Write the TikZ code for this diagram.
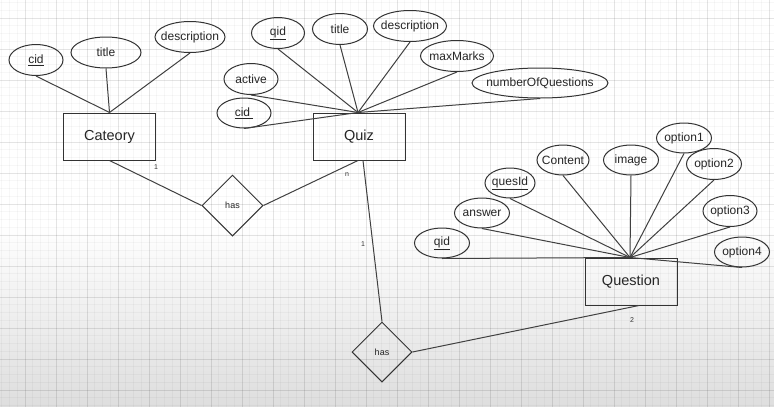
\documentclass[tikz,border=0pt]{standalone}
\usepackage{fontspec}
\setmainfont{Liberation Sans}
\usetikzlibrary{shapes.geometric}
\newcommand{\attrtext}[1]{\makebox[0pt]{#1}}
\begin{document}
\begin{tikzpicture}[x=1pt,y=-1pt,
    entity/.style={draw=black!80, line width=1pt, minimum width=92pt, minimum height=47pt,
        inner sep=0pt, text=black!85, font=\fontsize{14.5}{16}\selectfont},
    attrib/.style={ellipse, draw=black!80, line width=1pt, minimum height=31pt, inner sep=0pt,
        text=black!85, font=\fontsize{12}{14}\selectfont},
    relation/.style={diamond, draw=black!80, line width=1pt, minimum width=61pt, minimum height=61pt,
        inner sep=0pt, text=black!85, font=\fontsize{9}{10}\selectfont},
    link/.style={draw=black!75, line width=1pt},
    card/.style={text=black!80, font=\fontsize{7}{8}\selectfont},
    minorline/.style={black, opacity=0.03, line width=0.6pt},
    majorline/.style={black, opacity=0.075, line width=1pt}]
    \useasboundingbox (0,0) rectangle (774,407);
    \fill[white] (0,0) rectangle (774,407);
    \shade[top color=white, bottom color=black!13] (0,225) rectangle (774,407);
    \foreach \i in {0,...,100} {\draw[minorline] ({1.75+7.75*\i},0) -- ++(0,407);}
    \foreach \i in {0,...,52} {\draw[minorline] (0,{2.5+7.75*\i}) -- ++(774,0);}
    \foreach \i in {0,...,24} {\draw[majorline] ({25+31*\i},0) -- ++(0,407);}
    \foreach \i in {0,...,12} {\draw[majorline] (0,{18+31*\i}) -- ++(774,0);}

    \node (cat)[entity] at (109.5,136.5) {Cateory};
    \node (cat_cid)[attrib, minimum width=54pt] at (36,60) {\attrtext{\underline{cid}}};
    \node (cat_title)[attrib, minimum width=70pt] at (106,52.5) {\attrtext{title}};
    \node (cat_desc)[attrib, minimum width=70pt] at (190,37) {\attrtext{description}};

    \node (quiz)[entity] at (359,136.5) {Quiz};
    \node (quiz_qid)[attrib, minimum width=53pt] at (278,33) {\attrtext{\underline{qid}}};
    \node (quiz_title)[attrib, minimum width=55pt] at (340,29) {\attrtext{title}};
    \node (quiz_desc)[attrib, minimum width=73pt] at (410,26) {\attrtext{description}};
    \node (quiz_max)[attrib, minimum width=73pt] at (457,56) {\attrtext{maxMarks}};
    \node (quiz_noq)[attrib, minimum width=136pt, minimum height=30pt] at (540,83) {\attrtext{numberOfQuestions}};
    \node (quiz_active)[attrib, minimum width=54pt] at (251,79) {\attrtext{active}};
    \node (quiz_cid)[attrib, minimum width=54pt, minimum height=30pt] at (244,113) {\attrtext{\underline{cid\hspace{3pt}}}};

    \node (ques)[entity] at (631,281.5) {Question};
    \node (ques_qid)[attrib, minimum width=55pt, minimum height=30pt] at (442,243) {\attrtext{\underline{qid}}};
    \node (ques_answer)[attrib, minimum width=55pt, minimum height=30pt] at (482,213) {\attrtext{answer}};
    \node (ques_id)[attrib, minimum width=50pt, minimum height=30pt] at (510,183) {\attrtext{\underline{quesId}}};
    \node (ques_content)[attrib, minimum width=52pt, minimum height=30pt] at (563,160) {\attrtext{Content}};
    \node (ques_image)[attrib, minimum width=55pt, minimum height=30pt] at (631,160) {\attrtext{image}};
    \node (ques_opt1)[attrib, minimum width=55pt, minimum height=30pt] at (684,138) {\attrtext{option1}};
    \node (ques_opt2)[attrib, minimum width=55pt] at (714,164) {\attrtext{option2}};
    \node (ques_opt3)[attrib, minimum width=54pt] at (730,211) {\attrtext{option3}};
    \node (ques_opt4)[attrib, minimum width=55pt, minimum height=30pt] at (742,252) {\attrtext{option4}};

    \node (has_cat)[relation] at (232.5,205.5) {has};
    \node (has_ques)[relation, minimum width=60pt, minimum height=60pt] at (382,352) {has};

    \node (card_cat)[card] at (156,167) {1};
    \node (card_quiz_n)[card] at (347,175) {n};
    \node (card_quiz_1)[card] at (363,244) {1};
    \node (card_ques)[card] at (632,320) {2};

    \foreach \a in {cat_cid,cat_title,cat_desc}
        \path[link] (\a.south) -- (cat.north);
    \foreach \a in {quiz_qid,quiz_title,quiz_desc,quiz_max,quiz_noq,quiz_active,quiz_cid}
        \path[link] (\a.south) -- ([xshift=-1pt]quiz.north);
    \foreach \a in {ques_qid,ques_answer,ques_id,ques_content,ques_image,ques_opt1,ques_opt2,ques_opt3,ques_opt4}
        \path[link] (\a.south) -- ([xshift=-1pt]ques.north);

    \path[link] (cat.south) -- (has_cat.west);
    \path[link] (has_cat.east) -- ([xshift=-1pt]quiz.south);
    \path[link] ([xshift=4pt]quiz.south) -- (has_ques.north);
    \path[link] (has_ques.east) -- ([xshift=8pt]ques.south);
\end{tikzpicture}
\end{document}
